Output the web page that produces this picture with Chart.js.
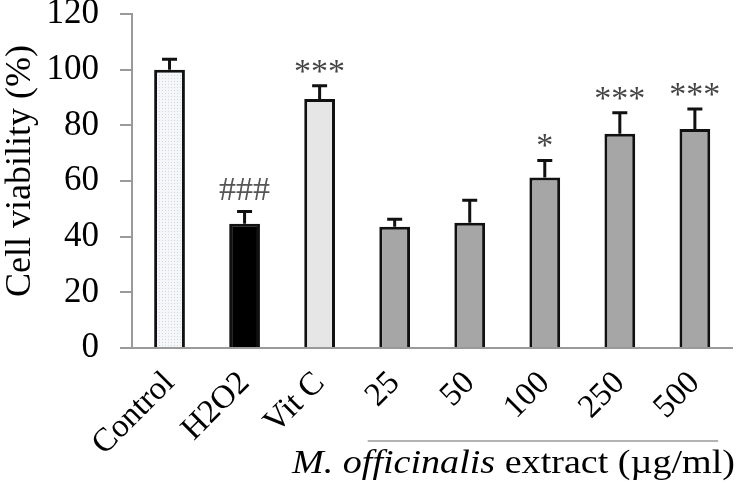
<!DOCTYPE html>
<html>
<head>
<meta charset="utf-8">
<script src="https://cdn.jsdelivr.net/npm/chart.js@4.4.0/dist/chart.umd.min.js"></script>
<style>
  html, body { margin: 0; padding: 0; background: #fff; }
  #wrap { width: 739px; height: 485px; }
</style>
</head>
<body>
<div id="wrap"><canvas id="viability"></canvas></div>
<script>
// data
const labels = ['Control', 'H2O2', 'Vit C', '25', '50', '100', '250', '500'];
const viability = [100, 44.6, 89.5, 43.6, 45, 61.3, 77, 78.7];
const sem = [3.7, 4.4, 4.7, 2.7, 8.1, 6.1, 7.5, 7.2];
const marks = ['', '###', '***', '', '', '*', '***', '***'];
const yTitle = 'Cell viability (%)';
const xTitleItalic = 'M. officinalis';
const xTitleRest = ' extract (\u00b5g/ml)';

const SERIF = "'Liberation Serif', 'Times New Roman', Times, serif";
const axisGray = '#9a9a9a';

function dotPattern() {
  const p = document.createElement('canvas');
  p.width = 3; p.height = 3;
  const g = p.getContext('2d');
  g.fillStyle = '#f4f6fa';
  g.fillRect(0, 0, 3, 3);
  g.fillStyle = '#d3d9e4';
  g.fillRect(0, 0, 1, 1);
  return g.createPattern(p, 'repeat');
}

const fills = [dotPattern(), '#000000', '#e6e6e6', '#a6a6a6', '#a6a6a6', '#a6a6a6', '#a6a6a6', '#a6a6a6'];

// error bars, significance marks, group bracket and axis titles
const extras = {
  id: 'extras',
  afterDatasetsDraw(chart) {
    const g = chart.ctx;
    const ys = chart.scales.y;
    const xs = chart.scales.x;
    const meta = chart.getDatasetMeta(0);
    g.save();
    g.strokeStyle = '#111';
    g.lineWidth = 3;
    meta.data.forEach((bar, i) => {
      const y0 = ys.getPixelForValue(viability[i]);
      const y1 = ys.getPixelForValue(viability[i] + sem[i]);
      g.beginPath();
      g.moveTo(bar.x, y0);
      g.lineTo(bar.x, y1);
      g.moveTo(bar.x - 7.5, y1);
      g.lineTo(bar.x + 7.5, y1);
      g.stroke();

      if (marks[i]) {
        const isHash = marks[i][0] === '#';
        g.font = '34px ' + SERIF;
        g.fillStyle = isHash ? '#555' : '#444';
        g.textAlign = 'center';
        g.textBaseline = 'alphabetic';
        g.fillText(marks[i], bar.x, y1 - (isHash ? 12 : 4));
      }
    });

    // bracket over extract concentrations
    const step = xs.getPixelForValue(1) - xs.getPixelForValue(0);
    const bx0 = xs.getPixelForValue(3) - 0.36 * step;
    const bx1 = xs.getPixelForValue(7) + 0.31 * step;
    g.strokeStyle = axisGray;
    g.lineWidth = 1.5;
    g.beginPath();
    g.moveTo(bx0, 441);
    g.lineTo(bx1, 441);
    g.stroke();

    // x title, italic species name + regular rest
    const fi = 'italic 34px ' + SERIF;
    const fr = '34px ' + SERIF;
    g.font = fi;
    const w1 = g.measureText(xTitleItalic).width;
    g.font = fr;
    const w2 = g.measureText(xTitleRest).width;
    const target = 443;
    const sx = target / (w1 + w2);
    g.save();
    g.translate(513.5 - target / 2, 473);
    g.scale(sx, 1);
    g.fillStyle = '#000';
    g.textAlign = 'left';
    g.textBaseline = 'alphabetic';
    g.font = fi;
    g.fillText(xTitleItalic, 0, 0);
    g.font = fr;
    g.fillText(xTitleRest, w1, 0);
    g.restore();

    // y title
    g.save();
    g.translate(21, 171);
    g.rotate(-Math.PI / 2);
    g.font = '36px ' + SERIF;
    g.fillStyle = '#000';
    g.textAlign = 'center';
    g.textBaseline = 'middle';
    g.fillText(yTitle, 0, 0);
    g.restore();

    g.restore();
  }
};

function draw() {
  new Chart(document.getElementById('viability'), {
    type: 'bar',
    data: {
      labels,
      datasets: [{
        data: viability,
        backgroundColor: fills,
        borderColor: '#111',
        borderWidth: 3,
        borderSkipped: 'bottom',
        barPercentage: 0.41,
        categoryPercentage: 1
      }]
    },
    options: {
      responsive: true,
      maintainAspectRatio: false,
      animation: false,
      layout: { padding: { top: 14, right: 2, left: 0, bottom: 0 } },
      plugins: { legend: { display: false }, tooltip: { enabled: false } },
      scales: {
        x: {
          grid: { display: false, drawTicks: false },
          border: { display: true, color: axisGray, width: 2 },
          ticks: {
            color: '#000',
            font: { family: SERIF, size: 33 },
            minRotation: 45,
            maxRotation: 45,
            autoSkip: false,
            padding: 16
          },
          afterFit: s => { s.height = 137; }
        },
        y: {
          min: 0,
          max: 120,
          grid: { display: true, drawOnChartArea: false, drawTicks: true, tickLength: 12, color: axisGray, lineWidth: 2 },
          border: { display: true, color: axisGray, width: 2 },
          ticks: {
            stepSize: 20,
            color: '#000',
            font: { family: SERIF, size: 35 },
            padding: 21
          },
          afterFit: s => { s.width = 132; s.paddingTop = 0; s.paddingBottom = 0; }
        }
      }
    },
    plugins: [extras]
  });
}

document.fonts.load("34px 'Liberation Serif'").then(draw, draw);
</script>
</body>
</html>
